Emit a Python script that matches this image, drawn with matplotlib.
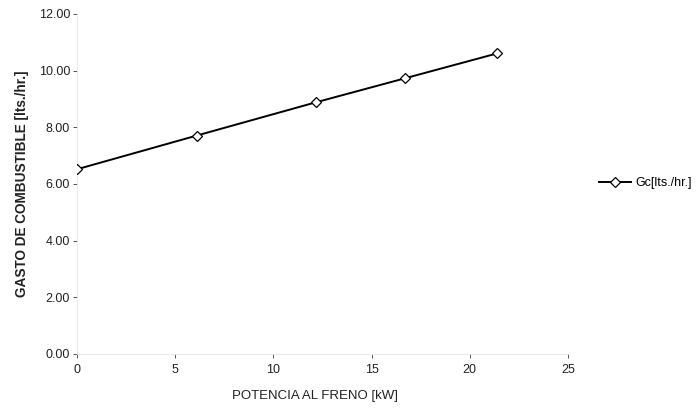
import matplotlib
matplotlib.use("Agg")
import matplotlib.pyplot as plt
from matplotlib.ticker import FixedLocator

plt.rcParams['font.family'] = ['Liberation Sans', 'DejaVu Sans']

# Brake power vs fuel consumption
potencia_kw = [0.0, 6.1, 12.15, 16.7, 21.4]
gasto_lts_hr = [6.52, 7.71, 8.88, 9.73, 10.61]

x_ticks = [0, 5, 10, 15, 20, 25]
y_ticks = [0, 2, 4, 6, 8, 10, 12]
y_tick_labels = ["0.00", "2.00", "4.00", "6.00", "8.00", "10.00", "12.00"]

serie_label = "Gc[lts./hr.]"
x_label = "POTENCIA AL FRENO [kW]"
y_label = "GASTO DE COMBUSTIBLE [lts./hr.]"

fig = plt.figure(figsize=(6.98, 4.15), dpi=100)
ax = fig.add_axes([0.1103, 0.1470, 0.7034, 0.8193])

line, = ax.plot(potencia_kw, gasto_lts_hr, color="black", lw=1.4,
                marker="D", markersize=5.5, markerfacecolor="white",
                markeredgecolor="black", markeredgewidth=0.9,
                label=serie_label, zorder=3)

ax.set_xlim(0, 25)
ax.set_ylim(0, 12)
ax.xaxis.set_major_locator(FixedLocator(x_ticks))
ax.yaxis.set_major_locator(FixedLocator(y_ticks))
ax.set_xticklabels([str(t) for t in x_ticks])
ax.set_yticklabels(y_tick_labels)

for side in ("top", "right"):
    ax.spines[side].set_visible(False)
for side in ("left", "bottom"):
    ax.spines[side].set_color("#e4e4e4")
    ax.spines[side].set_linewidth(0.6)

ax.tick_params(axis="both", labelsize=9, colors="#555555", labelcolor="#222222",
               length=3, width=0.7)
ax.tick_params(axis="x", pad=4)
ax.tick_params(axis="y", pad=2)

ax.set_xlabel(x_label, fontsize=9.5, color="#222222", labelpad=8)
ax.xaxis.set_label_coords(0.485, -0.105)
ax.set_ylabel(y_label, fontsize=9.8, fontweight="bold", color="#222222", labelpad=7)

fig.legend(handles=[line], labels=[serie_label], loc="center left",
           bbox_to_anchor=(0.842, 0.559), frameon=False, fontsize=9,
           handlelength=2.6, handletextpad=0.3, markerscale=1.0)

fig.savefig("out.png", dpi=100, facecolor="white")
